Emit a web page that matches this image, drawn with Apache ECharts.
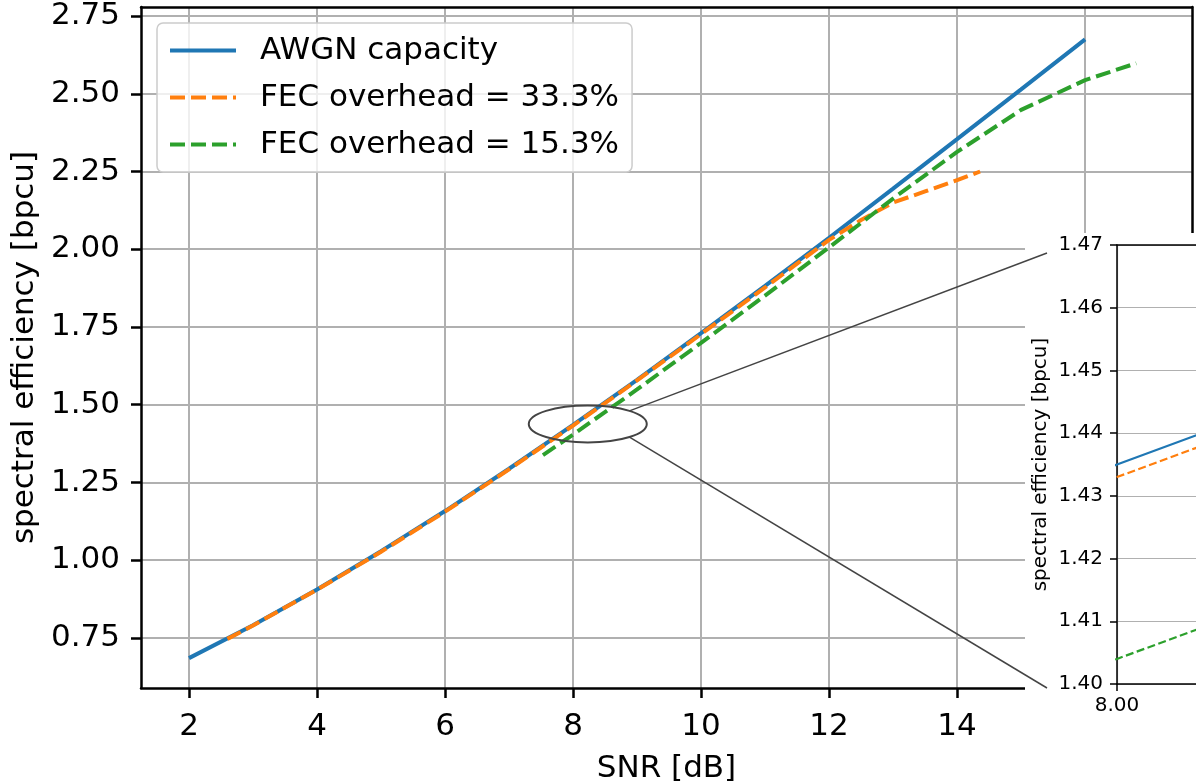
<!DOCTYPE html>
<html>
<head>
<meta charset="utf-8">
<script src="https://cdn.jsdelivr.net/npm/echarts@6/dist/echarts.min.js"></script>
<style>
html, body { margin: 0; padding: 0; background: #fff; }
#main { width: 1196px; height: 781px; }
</style>
</head>
<body>
<div id="main"></div>
<script>
// values
var snrCapacity = [2, 3, 4, 5, 6, 7, 8, 9, 10, 11, 12, 13, 14, 15, 16];
var capacity = [0.685, 0.791, 0.906, 1.029, 1.158, 1.294, 1.435, 1.580, 1.730, 1.882, 2.037, 2.195, 2.354, 2.514, 2.675];

var snrFec33 = [2.6, 3, 4, 5, 6, 7, 8, 9, 10, 11, 12, 12.5, 13, 13.5, 14, 14.36];
var fec33 = [0.747, 0.790, 0.905, 1.027, 1.156, 1.292, 1.433, 1.578, 1.727, 1.877, 2.030, 2.094, 2.150, 2.186, 2.222, 2.250];

var snrFec15 = [7.53, 8, 9, 10, 11, 12, 13, 14, 15, 16, 16.8];
var fec15 = [1.338, 1.404, 1.549, 1.699, 1.851, 2.006, 2.163, 2.313, 2.448, 2.544, 2.598];

var xTicks = [2, 4, 6, 8, 10, 12, 14, 16];
var yTicks = [0.75, 1.00, 1.25, 1.50, 1.75, 2.00, 2.25, 2.50, 2.75];

var names = ['AWGN capacity', 'FEC overhead = 33.3%', 'FEC overhead = 15.3%'];
var colors = ['#1f77b4', '#ff7f0e', '#2ca02c'];

var FONT = 'DejaVu Sans';
var DASH = [15, 6];

function pairs(xs, ys) {
    return xs.map(function (x, i) { return [x, ys[i]]; });
}

var chart = echarts.init(document.getElementById('main'));

function mainLine(i, xs, ys, dashed) {
    return {
        name: names[i],
        type: 'line',
        xAxisIndex: 0,
        yAxisIndex: 0,
        data: pairs(xs, ys),
        symbol: 'none',
        lineStyle: { color: colors[i], width: 4, type: dashed ? DASH : 'solid' },
        itemStyle: { color: colors[i] },
        z: 2 + i
    };
}

function insetLine(i, xs, ys, dashed) {
    return {
        name: names[i],
        type: 'line',
        xAxisIndex: 2,
        yAxisIndex: 2,
        data: pairs(xs, ys),
        symbol: 'none',
        clip: true,
        lineStyle: { color: colors[i], width: 2.2, type: dashed ? [8, 3.5] : 'solid' },
        itemStyle: { color: colors[i] },
        z: 110 + i
    };
}

var legendData = names.map(function (n, i) {
    return {
        name: n,
        lineStyle: { color: colors[i], width: 4, type: i === 0 ? 'solid' : DASH },
        itemStyle: { color: 'rgba(0,0,0,0)', borderWidth: 0, opacity: 0 }
    };
});

var gridLine = { show: true, lineStyle: { color: '#b0b0b0', width: 2 } };

var option = {
    animation: false,
    backgroundColor: '#fff',
    textStyle: { fontFamily: FONT },
    grid: [
        { left: 141, top: 7, right: 4, bottom: 93, outerBoundsMode: 'none', containLabel: false },
        { left: 1117, top: 245, width: 247, height: 439, outerBoundsMode: 'none', containLabel: false }
    ],
    legend: {
        orient: 'vertical',
        left: 157,
        top: 23,
        data: legendData,
        itemWidth: 66,
        itemHeight: 20,
        itemGap: 16,
        padding: [12, 13, 12, 11],
        backgroundColor: 'rgba(255,255,255,0.8)',
        borderColor: '#cccccc',
        borderWidth: 1.5,
        borderRadius: 6,
        textStyle: { fontFamily: FONT, fontSize: 31, color: '#000', lineHeight: 30, padding: [0, 0, 0, 19] },
        z: 20
    },
    xAxis: [
        {
            type: 'value', gridIndex: 0, min: 1.25, max: 17.67,
            name: 'SNR [dB]', nameLocation: 'middle', nameGap: 65,
            nameTextStyle: { fontFamily: FONT, fontSize: 31, color: '#000' },
            axisLine: { lineStyle: { color: '#000', width: 2.5 } },
            axisTick: { length: 10, lineStyle: { color: '#000', width: 2.5 }, customValues: xTicks },
            axisLabel: { fontSize: 31, color: '#000', margin: 23, customValues: xTicks },
            splitLine: gridLine
        },
        {
            type: 'value', gridIndex: 0, min: 1.25, max: 17.67, position: 'top',
            axisLine: { show: true, lineStyle: { color: '#000', width: 2.5 } },
            axisTick: { show: false }, axisLabel: { show: false }, splitLine: { show: false }
        },
        {
            type: 'value', gridIndex: 1, min: 8, max: 8.1, interval: 0.05,
            axisLine: { lineStyle: { color: '#000', width: 1.5 } },
            axisTick: { length: 7, lineStyle: { color: '#000', width: 1.5 } },
            axisLabel: {
                fontSize: 20, color: '#000', margin: 12, showMinLabel: true, hideOverlap: false,
                formatter: function (v) { return v.toFixed(2); }
            },
            splitLine: { show: true, lineStyle: { color: '#b0b0b0', width: 1.2 } },
            z: 100
        },
        {
            type: 'value', gridIndex: 1, min: 8, max: 8.1, position: 'top',
            axisLine: { show: true, lineStyle: { color: '#000', width: 1.5 } },
            axisTick: { show: false }, axisLabel: { show: false }, splitLine: { show: false },
            z: 100
        }
    ],
    yAxis: [
        {
            type: 'value', gridIndex: 0, min: 0.589, max: 2.779,
            name: 'spectral efficiency [bpcu]', nameLocation: 'middle', nameGap: 93,
            nameTextStyle: { fontFamily: FONT, fontSize: 31, color: '#000' },
            axisLine: { show: true, lineStyle: { color: '#000', width: 2.5 } },
            axisTick: { show: true, length: 10, lineStyle: { color: '#000', width: 2.5 }, customValues: yTicks },
            axisLabel: {
                fontSize: 31, color: '#000', margin: 21, customValues: yTicks,
                formatter: function (v) { return v.toFixed(2); }
            },
            splitLine: gridLine
        },
        {
            type: 'value', gridIndex: 0, min: 0.589, max: 2.779, position: 'right',
            axisLine: { show: true, lineStyle: { color: '#000', width: 2.5 } },
            axisTick: { show: false }, axisLabel: { show: false }, splitLine: { show: false }
        },
        {
            type: 'value', gridIndex: 1, min: 1.40, max: 1.47, interval: 0.01,
            name: 'spectral efficiency [bpcu]', nameLocation: 'middle', nameGap: 66,
            nameTextStyle: { fontFamily: FONT, fontSize: 20, color: '#000' },
            axisLine: { show: true, lineStyle: { color: '#000', width: 1.5 } },
            axisTick: { show: true, length: 7, lineStyle: { color: '#000', width: 1.5 } },
            axisLabel: {
                fontSize: 20, color: '#000', margin: 14,
                formatter: function (v) { return v.toFixed(2); }
            },
            splitLine: { show: true, lineStyle: { color: '#b0b0b0', width: 1.2 } },
            z: 100
        }
    ],
    series: [
        mainLine(0, snrCapacity, capacity, false),
        mainLine(1, snrFec33, fec33, true),
        mainLine(2, snrFec15, fec15, true),
        insetLine(0, snrCapacity, capacity, false),
        insetLine(1, snrFec33, fec33, true),
        insetLine(2, snrFec15, fec15, true)
    ]
};

chart.setOption(option);

// zoom marker: ellipse around the inset region plus connector lines
var c = chart.convertToPixel({ gridIndex: 0 }, [8.23, 1.438]);
var insetTop = chart.convertToPixel({ gridIndex: 1 }, [8, 1.47]);
var insetBot = chart.convertToPixel({ gridIndex: 1 }, [8, 1.40]);
var rx = 59, ry = 18.5;
var k = Math.SQRT1_2;

chart.setOption({
    graphic: [
        {
            type: 'rect', z: 50, silent: true,
            shape: { x: insetTop[0] - 92, y: insetTop[1] - 12, width: 400, height: 600 },
            style: { fill: '#fff' }
        },
        {
            type: 'ellipse', z: 60, silent: true,
            shape: { cx: c[0], cy: c[1], rx: rx, ry: ry },
            style: { fill: 'none', stroke: '#444', lineWidth: 2 }
        },
        {
            type: 'line', z: 60, silent: true,
            shape: { x1: c[0] + rx * k, y1: c[1] - ry * k, x2: insetTop[0] - 70, y2: insetTop[1] + 8 },
            style: { stroke: '#444', lineWidth: 1.5 }
        },
        {
            type: 'line', z: 60, silent: true,
            shape: { x1: c[0] + rx * k, y1: c[1] + ry * k, x2: insetBot[0] - 70, y2: insetBot[1] + 4 },
            style: { stroke: '#444', lineWidth: 1.5 }
        }
    ]
});

window.addEventListener('resize', function () {
    chart.resize();
});
</script>
</body>
</html>
